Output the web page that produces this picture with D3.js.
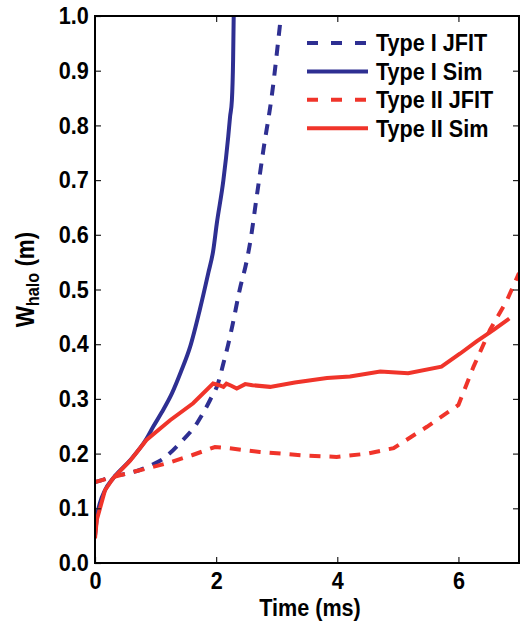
<!DOCTYPE html>
<html>
<head>
<meta charset="utf-8">
<script src="https://d3js.org/d3.v7.min.js"></script>
<style>
  body { margin: 0; background: #fff; }
  text { font-family: "Liberation Sans", Arial, Helvetica, sans-serif; font-weight: bold; }
</style>
</head>
<body>
<svg id="chart" width="520" height="623"></svg>
<script>
// series: [time (ms), W_halo (m)]
var typeISim = [[0,0.05],[0.04,0.09],[0.08,0.109],[0.165,0.133],[0.3,0.155],[0.58,0.188],[0.85,0.227],
  [0.96,0.249],[1.1,0.275],[1.27,0.31],[1.42,0.35],[1.57,0.395],[1.73,0.463],[1.87,0.53],[1.95,0.57],
  [2.01,0.62],[2.12,0.70],[2.2,0.78],[2.23,0.816],[2.26,0.846],[2.28,0.92],[2.29,1.0]];
var typeIJfit = [[0,0.148],[0.1,0.151],[0.27,0.158],[0.5,0.163],[0.74,0.17],[0.95,0.18],[1.13,0.191],
  [1.4,0.219],[1.68,0.255],[1.9,0.298],[2.03,0.328],[2.12,0.365],[2.2,0.40],[2.27,0.435],[2.39,0.50],
  [2.5,0.55],[2.56,0.585],[2.67,0.67],[2.78,0.755],[2.92,0.855],[3.05,0.98],[3.08,1.01]];
var typeIISim = [[0,0.045],[0.03,0.079],[0.165,0.133],[0.3,0.155],[0.58,0.187],[0.85,0.225],[1.24,0.261],
  [1.62,0.292],[1.95,0.328],[2.05,0.325],[2.12,0.322],[2.17,0.328],[2.25,0.324],[2.34,0.319],[2.48,0.327],
  [2.6,0.325],[2.89,0.322],[3.3,0.33],[3.83,0.338],[4.21,0.341],[4.71,0.35],[5.17,0.347],[5.72,0.359],
  [6.03,0.383],[6.3,0.405],[6.58,0.426],[6.84,0.447]];
var typeIIJfit = [[0,0.148],[0.47,0.162],[1.18,0.182],[1.6,0.197],[1.98,0.212],[2.2,0.21],[2.72,0.203],
  [3.4,0.197],[3.99,0.194],[4.5,0.2],[4.93,0.21],[5.48,0.249],[6.0,0.289],[6.25,0.359],[6.52,0.426],
  [6.8,0.48],[7.0,0.53]];

var xTicks = [0, 2, 4, 6];
var yTicks = [0, 0.1, 0.2, 0.3, 0.4, 0.5, 0.6, 0.7, 0.8, 0.9, 1.0];

var blue = "#2e2f92", red = "#f0342a";
var series = [
  { name: "Type I JFIT", data: typeIJfit, color: blue, dash: "11,9", curve: d3.curveMonotoneX },
  { name: "Type I Sim", data: typeISim, color: blue, dash: null, curve: d3.curveMonotoneX },
  { name: "Type II JFIT", data: typeIIJfit, color: red, dash: "11,9", curve: d3.curveLinear },
  { name: "Type II Sim", data: typeIISim, color: red, dash: null, curve: d3.curveLinear }
];

var margin = { top: 16, right: 1, bottom: 60, left: 95 },
    width = 520 - margin.left - margin.right,
    height = 623 - margin.top - margin.bottom;

// bold text is a bit condensed in the original
var sx = 0.9, fs = "24px";

var svg = d3.select("#chart");
var g = svg.append("g").attr("transform", "translate(" + margin.left + "," + margin.top + ")");

var x = d3.scaleLinear().domain([0, 7]).range([0, width]);
var y = d3.scaleLinear().domain([0, 1]).range([height, 0]);

g.append("clipPath").attr("id", "clip")
  .append("rect").attr("width", width).attr("height", height);

// lines
var lines = g.append("g").attr("clip-path", "url(#clip)");
series.forEach(function (s) {
  lines.append("path")
    .datum(s.data)
    .attr("fill", "none")
    .attr("stroke", s.color)
    .attr("stroke-width", 4)
    .attr("stroke-dasharray", s.dash)
    .attr("d", d3.line().curve(s.curve)
      .x(function (d) { return x(d[0]); })
      .y(function (d) { return y(d[1]); }));
});

// axes (ticks inside)
g.append("g")
  .call(d3.axisLeft(y).tickValues(yTicks).tickFormat(d3.format(".1f")).tickSizeInner(-6).tickSizeOuter(0).tickPadding(7));
g.append("g").attr("transform", "translate(0," + height + ")")
  .call(d3.axisBottom(x).tickValues(xTicks).tickFormat(d3.format("d")).tickSizeInner(-6).tickSizeOuter(0).tickPadding(9));
g.append("g").attr("transform", "translate(" + width + ",0)")
  .call(d3.axisRight(y).tickValues(yTicks.slice(1, -1)).tickFormat("").tickSizeInner(-6).tickSizeOuter(0));
g.append("g")
  .call(d3.axisTop(x).tickValues(xTicks.slice(1)).tickFormat("").tickSizeInner(-6).tickSizeOuter(0));

g.selectAll(".domain").remove();
g.selectAll(".tick line").attr("stroke", "#222").attr("stroke-width", 1.2);
g.selectAll(".tick text").attr("fill", "#000").style("font-size", fs)
  .attr("transform", "scale(" + sx + ",1)");

g.append("rect")
  .attr("width", width).attr("height", height)
  .attr("fill", "none").attr("stroke", "#000").attr("stroke-width", 2);

// axis labels
g.append("text")
  .attr("transform", "translate(" + (width / 2 + 3) + "," + (height + 53) + ") scale(" + sx + ",1)")
  .attr("text-anchor", "middle")
  .style("font-size", fs)
  .text("Time (ms)");

var yl = svg.append("text")
  .attr("transform", "translate(34," + (margin.top + height / 2 - 10) + ") rotate(-90) scale(" + sx + ",1)")
  .attr("text-anchor", "middle")
  .style("font-size", "25px");
yl.append("tspan").text("W");
yl.append("tspan").attr("dy", 5).style("font-size", "18px").text("halo");
yl.append("tspan").attr("dy", -5).text(" (m)");

// legend
var legend = g.append("g").attr("transform", "translate(" + (307 - margin.left) + "," + (43 - margin.top) + ")");
series.forEach(function (s, i) {
  var row = legend.append("g").attr("transform", "translate(0," + i * 28.4 + ")");
  row.append("line")
    .attr("x1", 0).attr("x2", 61)
    .attr("stroke", s.color).attr("stroke-width", 4)
    .attr("stroke-dasharray", s.dash ? "11,13" : null);
  row.append("text")
    .attr("transform", "translate(69,0) scale(" + sx + ",1)")
    .attr("dy", "0.35em")
    .style("font-size", fs)
    .text(s.name);
});
</script>
</body>
</html>
